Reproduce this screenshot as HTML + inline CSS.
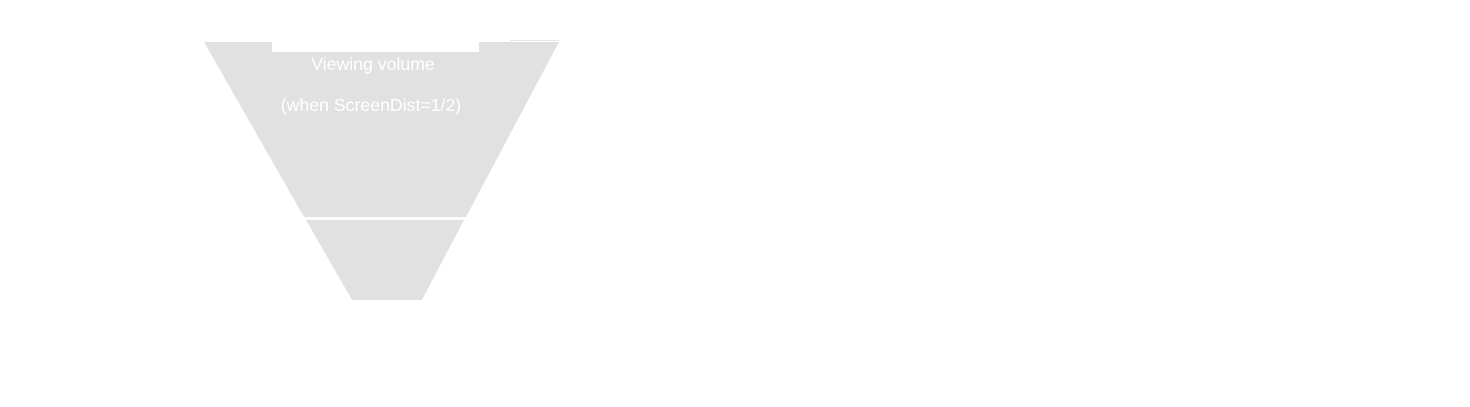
<!DOCTYPE html>
<html><head><meta charset="utf-8"><style>
html,body{margin:0;padding:0;background:#fff;width:1470px;height:407px;overflow:hidden}
svg{display:block}
text{font-family:"Liberation Sans",sans-serif;fill:#fff;font-size:17.7px}
</style></head><body>
<svg width="1470" height="407">
<polygon points="204,42 559,42 466,217 304,217" fill="#e1e1e1"/>
<polygon points="306,220 464,220 422,300 352,300" fill="#e1e1e1"/>
<rect x="272" y="41" width="207" height="11" fill="#fff"/>
<line x1="510" y1="40.5" x2="559" y2="40.5" stroke="#e6e6e6" stroke-width="1"/>
<text x="373" y="70" text-anchor="middle">Viewing volume</text>
<text x="371" y="111" text-anchor="middle">(when ScreenDist=1/2)</text>
</svg>
</body></html>
